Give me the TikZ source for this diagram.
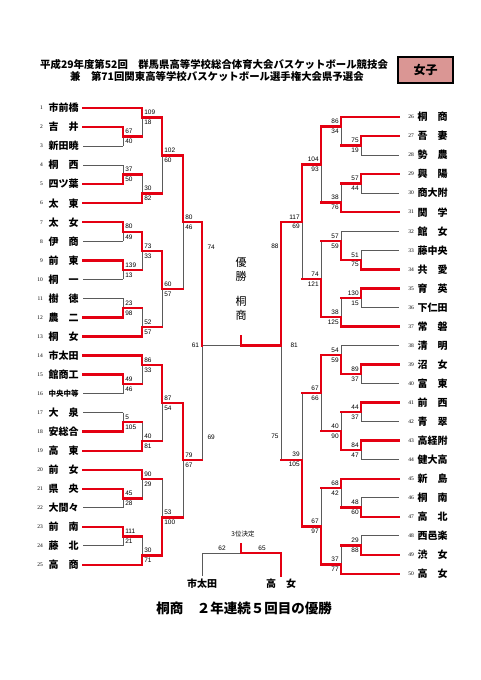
\documentclass[tikz,border=0pt]{standalone}
\usepackage{fontspec}
\setmainfont{Liberation Serif}
\newfontfamily\cjk{Noto Sans CJK JP}
\newfontfamily\arial{Liberation Sans}
\pgfdeclarelayer{bg}\pgfdeclarelayer{paper}\pgfsetlayers{paper,bg,main}
\definecolor{bred}{RGB}{228,0,18}
\definecolor{bgray}{RGB}{90,90,90}
\definecolor{boxpink}{RGB}{218,150,148}
\tikzset{
  win/.style={draw=bred,line width=2.4pt,line cap=rect},
  lose/.style={draw=bgray,line width=0.9pt},
  sc/.style={font=\arial\fontsize{6.5}{7}\selectfont,inner sep=0.3pt},
  tname/.style={font=\cjk\bfseries\fontsize{10}{11}\selectfont,inner sep=0pt},
  tnum/.style={font=\fontsize{5.5}{6}\selectfont,inner sep=0pt},
}
\newcommand\MatchLines[3]{%
  \begin{pgfonlayer}{bg}%
  \ifnum#3=1 \draw[lose] (#1,\yo) -- (#1,\yb);\else\draw[lose] (#1,\yt) -- (#1,\yo);\fi
  \end{pgfonlayer}%
  \ifnum#3=1 \draw[win] (#1,\yt) -- (#1,\yo);\else\draw[win] (#1,\yo) -- (#1,\yb);\fi
  \draw[win] (#1,\yo) -- (#2,\yo);
}
\newcommand\LMatch[8]{%
  \pgfmathsetmacro\yt{108+9.52*(#2)}%
  \pgfmathsetmacro\yb{108+9.52*(#3)}%
  \pgfmathsetmacro\yo{108+9.52*(#4)}%
  \MatchLines{#1}{#5}{#8}%
  \node[sc,anchor=south west] at (#1+1.8,\yo-2.2) {#6};
  \node[sc,anchor=north west] at (#1+1.8,\yo+2.2) {#7};
}
\newcommand\RMatch[8]{%
  \pgfmathsetmacro\yt{117+9.52*(#2)}%
  \pgfmathsetmacro\yb{117+9.52*(#3)}%
  \pgfmathsetmacro\yo{117+9.52*(#4)}%
  \MatchLines{#1}{#5}{#8}%
  \node[sc,anchor=south east] at (#1-1.8,\yo-2.2) {#6};
  \node[sc,anchor=north east] at (#1-1.8,\yo+2.2) {#7};
}
\newcommand\LTeam[4]{%
  \pgfmathsetmacro\yy{108+19.04*(#1-1)}%
  \node[tnum,anchor=east] (ln#1) at (43,\yy) {#1};
  \node[tname] (lt#1) at (63.5,\yy) {#2};
  \ifnum#4=1 \draw[win] (83,\yy) -- (#3,\yy);\else
  \begin{pgfonlayer}{bg}\draw[lose] (83,\yy) -- (#3,\yy);\end{pgfonlayer}\fi
}
\newcommand\RTeam[4]{%
  \pgfmathsetmacro\yy{117+19.04*(#1-26)}%
  \node[tnum,anchor=east] (rn#1) at (414,\yy) {#1};
  \node[tname] (rt#1) at (432.5,\yy) {#2};
  \ifnum#4=1 \draw[win] (#3,\yy) -- (399,\yy);\else
  \begin{pgfonlayer}{bg}\draw[lose] (#3,\yy) -- (399,\yy);\end{pgfonlayer}\fi
}
\begin{document}
\begin{tikzpicture}[x=1pt,y=-1pt]
\begin{pgfonlayer}{paper}
\path[use as bounding box,fill=white] (0,0) rectangle (481,680);
\end{pgfonlayer}
% title
\node[anchor=west,inner sep=0pt,font=\cjk\bfseries\fontsize{10.4}{12}\selectfont] (t1) at (40,65) {平成29年度第52回　群馬県高等学校総合体育大会バスケットボール競技会};
\node[anchor=west,inner sep=0pt,font=\cjk\bfseries\fontsize{10.4}{12}\selectfont] (t2) at (70,76.5) {兼　第71回関東高等学校バスケットボール選手権大会県予選会};
\node[draw=black,line width=1.2pt,fill=boxpink,minimum width=55pt,minimum height=26pt,inner sep=0pt,font=\cjk\bfseries\fontsize{12}{14}\selectfont] (girls) at (425.5,70) {女子};
% left teams
\LTeam{1}{市前橋}{142}{1}
\LTeam{2}{吉　井}{123}{1}
\LTeam{3}{新田暁}{123}{0}
\LTeam{4}{桐　西}{123}{0}
\LTeam{5}{四ツ葉}{123}{1}
\LTeam{6}{太　東}{142}{1}
\LTeam{7}{太　女}{123}{1}
\LTeam{8}{伊　商}{123}{0}
\LTeam{9}{前　東}{123}{1}
\LTeam{10}{桐　一}{123}{0}
\LTeam{11}{樹　徳}{123}{0}
\LTeam{12}{農　二}{123}{1}
\LTeam{13}{桐　女}{142}{1}
\LTeam{14}{市太田}{142}{1}
\LTeam{15}{館商工}{123}{1}
\LTeam{16}{{\fontsize{7.5}{8}\selectfont 中央中等}}{123}{0}
\LTeam{17}{大　泉}{123}{0}
\LTeam{18}{安総合}{123}{1}
\LTeam{19}{高　東}{142}{1}
\LTeam{20}{前　女}{142}{1}
\LTeam{21}{県　央}{123}{1}
\LTeam{22}{大間々}{123}{0}
\LTeam{23}{前　南}{123}{1}
\LTeam{24}{藤　北}{123}{0}
\LTeam{25}{高　商}{142}{1}
% left matches
\LMatch{123}{2}{4}{3}{142}{67}{40}{1}
\LMatch{142}{0}{3}{1}{162}{109}{18}{1}
\LMatch{123}{6}{8}{7}{142}{37}{50}{2}
\LMatch{142}{7}{10}{9}{162}{30}{82}{2}
\LMatch{162}{1}{9}{5}{183}{102}{60}{1}
\LMatch{123}{12}{14}{13}{142}{80}{49}{1}
\LMatch{123}{16}{18}{17}{142}{139}{13}{1}
\LMatch{142}{13}{17}{15}{162}{73}{33}{1}
\LMatch{123}{20}{22}{21}{142}{23}{98}{2}
\LMatch{142}{21}{24}{23}{162}{52}{57}{2}
\LMatch{162}{15}{23}{19}{183}{60}{57}{1}
\LMatch{183}{5}{19}{12}{202}{80}{46}{1}
\LMatch{123}{28}{30}{29}{142}{49}{46}{1}
\LMatch{142}{26}{29}{27}{162}{86}{33}{1}
\LMatch{123}{32}{34}{33}{142}{5}{105}{2}
\LMatch{142}{33}{36}{35}{162}{40}{81}{2}
\LMatch{162}{27}{35}{31}{183}{87}{54}{1}
\LMatch{123}{40}{42}{41}{142}{45}{28}{1}
\LMatch{142}{38}{41}{39}{162}{90}{29}{1}
\LMatch{123}{44}{46}{45}{142}{111}{21}{1}
\LMatch{142}{45}{48}{47}{162}{30}{71}{2}
\LMatch{162}{39}{47}{43}{183}{53}{100}{2}
\LMatch{183}{31}{43}{37}{202}{79}{67}{1}
% right teams
\RTeam{26}{桐　商}{341}{1}
\RTeam{27}{吾　妻}{361}{1}
\RTeam{28}{勢　農}{361}{0}
\RTeam{29}{興　陽}{361}{1}
\RTeam{30}{商大附}{361}{0}
\RTeam{31}{関　学}{341}{1}
\RTeam{32}{館　女}{341}{0}
\RTeam{33}{藤中央}{361}{0}
\RTeam{34}{共　愛}{361}{1}
\RTeam{35}{育　英}{361}{1}
\RTeam{36}{下仁田}{361}{0}
\RTeam{37}{常　磐}{341}{1}
\RTeam{38}{清　明}{341}{0}
\RTeam{39}{沼　女}{361}{1}
\RTeam{40}{富　東}{361}{0}
\RTeam{41}{前　西}{361}{1}
\RTeam{42}{青　翠}{361}{0}
\RTeam{43}{高経附}{361}{1}
\RTeam{44}{健大高}{361}{0}
\RTeam{45}{新　島}{341}{1}
\RTeam{46}{桐　南}{361}{0}
\RTeam{47}{高　北}{361}{1}
\RTeam{48}{西邑楽}{361}{0}
\RTeam{49}{渋　女}{361}{1}
\RTeam{50}{高　女}{341}{1}
% right matches
\RMatch{361}{2}{4}{3}{341}{75}{19}{1}
\RMatch{341}{0}{3}{1}{321}{86}{34}{1}
\RMatch{361}{6}{8}{7}{341}{57}{44}{1}
\RMatch{341}{7}{10}{9}{321}{38}{76}{2}
\RMatch{321}{1}{9}{5}{302}{104}{93}{1}
\RMatch{361}{14}{16}{15}{341}{51}{75}{2}
\RMatch{341}{12}{15}{13}{321}{57}{59}{2}
\RMatch{361}{18}{20}{19}{341}{130}{15}{1}
\RMatch{341}{19}{22}{21}{321}{38}{125}{2}
\RMatch{321}{13}{21}{17}{302}{74}{121}{2}
\RMatch{302}{5}{17}{11}{281}{117}{69}{1}
\RMatch{361}{26}{28}{27}{341}{89}{37}{1}
\RMatch{341}{24}{27}{25}{321}{54}{59}{2}
\RMatch{361}{30}{32}{31}{341}{44}{37}{1}
\RMatch{361}{34}{36}{35}{341}{84}{47}{1}
\RMatch{341}{31}{35}{33}{321}{40}{90}{2}
\RMatch{321}{25}{33}{29}{302}{67}{66}{1}
\RMatch{361}{40}{42}{41}{341}{48}{60}{2}
\RMatch{341}{38}{41}{39}{321}{68}{42}{1}
\RMatch{361}{44}{46}{45}{341}{29}{88}{2}
\RMatch{341}{45}{48}{47}{321}{37}{77}{2}
\RMatch{321}{39}{47}{43}{302}{67}{97}{2}
\RMatch{302}{29}{43}{36}{281}{39}{105}{2}
% semifinals and final
\coordinate (sL) at (202,222.24);
\coordinate (sLb) at (202,460.24);
\coordinate (sR) at (281,221.72);
\coordinate (sRb) at (281,459.72);
\coordinate (fL) at (202,345.5);
\coordinate (fC) at (241,345.5);
\coordinate (fR) at (281,345.5);
\coordinate (fN) at (241,336);
\begin{pgfonlayer}{bg}
\draw[lose] (fL) -- (sLb);
\draw[lose] (fR) -- (sRb);
\draw[lose] (fL) -- (fC);
\end{pgfonlayer}
\draw[win] (sL) -- (fL);
\draw[win] (sR) -- (fR);
\draw[win] (fN) -- (fC) -- (fR);
\node[sc,anchor=west] (s74) at (207,247) {74};
\node[sc,anchor=west] (s69) at (207,437) {69};
\node[sc,anchor=east] (s88) at (279,246) {88};
\node[sc,anchor=east] (s75) at (279,436) {75};
\node[sc,anchor=east] (f61) at (199.5,345.5) {61};
\node[sc,anchor=west] (f81) at (290,345.5) {81};
% champion
\node[font=\cjk\fontsize{11}{12}\selectfont,inner sep=0pt] (c1) at (241,262) {優};
\node[font=\cjk\fontsize{11}{12}\selectfont,inner sep=0pt] (c2) at (241,276) {勝};
\node[font=\cjk\fontsize{11}{12}\selectfont,inner sep=0pt] (c3) at (241,301) {桐};
\node[font=\cjk\fontsize{11}{12}\selectfont,inner sep=0pt] (c4) at (241,315) {商};
% third place
\node[font=\cjk\fontsize{6.5}{7}\selectfont,inner sep=0pt] (third) at (243,534) {3位決定};
\coordinate (tL) at (202,553);
\coordinate (tC) at (241,553);
\coordinate (tR) at (281,553);
\coordinate (tN) at (241,544);
\coordinate (tLb) at (202,576);
\coordinate (tRb) at (281,576);
\begin{pgfonlayer}{bg}
\draw[lose] (tLb) -- (tL) -- (tC);
\end{pgfonlayer}
\draw[win] (tN) -- (tC) -- (tR) -- (tRb);
\node[sc] (t62) at (222,548.5) {62};
\node[sc] (t65) at (262,548.5) {65};
\node[tname] (tn1) at (202,584) {市太田};
\node[tname] (tn2) at (281,584) {高　女};
% result
\node[font=\cjk\bfseries\fontsize{13.5}{15}\selectfont,inner sep=0pt] (result) at (244,608) {桐商　２年連続５回目の優勝};
\end{tikzpicture}
\end{document}
